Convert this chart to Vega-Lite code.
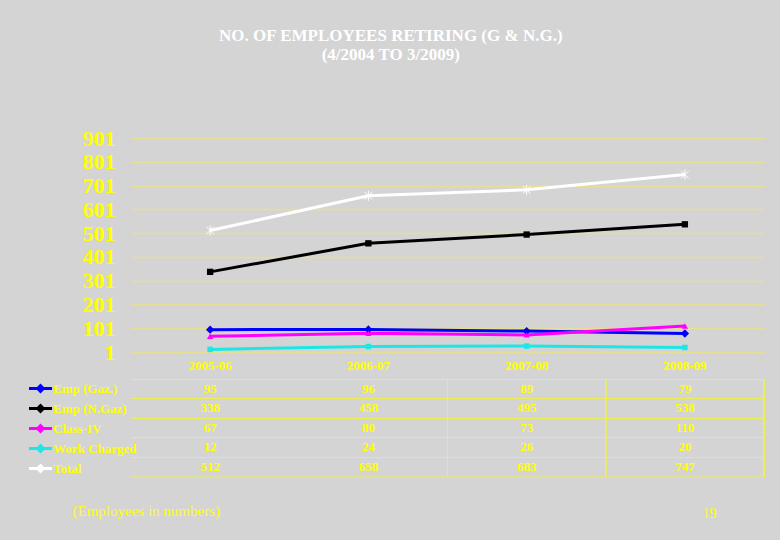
{
  "$schema": "https://vega.github.io/schema/vega-lite/v6.json",
  "background": "#d4d4d4",
  "padding": {"left": 29, "top": 27, "right": 15, "bottom": 23},
  "autosize": {"type": "pad"},
  "config": {
    "view": {"stroke": null},
    "font": "Liberation Serif",
    "concat": {"spacing": 0}
  },
  "title": {
    "text": ["NO. OF EMPLOYEES RETIRING (G & N.G.)", "(4/2004 TO 3/2009)"],
    "color": "#ffffff",
    "fontSize": 17,
    "fontWeight": "bold",
    "font": "Liberation Serif",
    "lineHeight": 19,
    "anchor": "middle",
    "dx": -6,
    "offset": 63
  },
  "data": {
    "values": [
      {"year": "2005-06", "series": "Emp (Gaz.)", "count": 95},
      {"year": "2006-07", "series": "Emp (Gaz.)", "count": 96},
      {"year": "2007-08", "series": "Emp (Gaz.)", "count": 89},
      {"year": "2008-09", "series": "Emp (Gaz.)", "count": 79},
      {"year": "2005-06", "series": "Emp (N.Gaz)", "count": 338},
      {"year": "2006-07", "series": "Emp (N.Gaz)", "count": 458},
      {"year": "2007-08", "series": "Emp (N.Gaz)", "count": 495},
      {"year": "2008-09", "series": "Emp (N.Gaz)", "count": 538},
      {"year": "2005-06", "series": "Class-IV", "count": 67},
      {"year": "2006-07", "series": "Class-IV", "count": 80},
      {"year": "2007-08", "series": "Class-IV", "count": 73},
      {"year": "2008-09", "series": "Class-IV", "count": 110},
      {"year": "2005-06", "series": "Work Charged", "count": 12},
      {"year": "2006-07", "series": "Work Charged", "count": 24},
      {"year": "2007-08", "series": "Work Charged", "count": 26},
      {"year": "2008-09", "series": "Work Charged", "count": 20},
      {"year": "2005-06", "series": "Total", "count": 512},
      {"year": "2006-07", "series": "Total", "count": 658},
      {"year": "2007-08", "series": "Total", "count": 683},
      {"year": "2008-09", "series": "Total", "count": 747}
    ]
  },
  "vconcat": [
    {
      "width": 633,
      "height": 214,
      "encoding": {
        "x": {
          "field": "year",
          "type": "nominal",
          "scale": {"type": "band", "domain": ["2005-06", "2006-07", "2007-08", "2008-09"], "paddingInner": 0, "paddingOuter": 0},
          "axis": {
            "title": null,
            "labelAngle": 0,
            "labelColor": "#ffff00",
            "labelFontSize": 13,
            "labelFontWeight": "bold",
            "labelFont": "Liberation Serif",
            "labelPadding": 7,
            "ticks": false,
            "domain": false,
            "grid": false,
            "minExtent": 26,
            "maxExtent": 26
          }
        },
        "y": {
          "field": "count",
          "type": "quantitative",
          "scale": {"domain": [1, 901], "nice": false, "zero": false},
          "axis": {
            "title": null,
            "values": [1, 101, 201, 301, 401, 501, 601, 701, 801, 901],
            "labelColor": "#ffff00",
            "labelFontSize": 22,
            "labelFontWeight": "bold",
            "labelFont": "Liberation Serif",
            "labelPadding": 16,
            "ticks": false,
            "domain": false,
            "grid": true,
            "gridColor": "#e6df94",
            "gridWidth": 1.5,
            "minExtent": 102,
            "maxExtent": 102
          }
        },
        "color": {
          "field": "series",
          "type": "nominal",
          "scale": {
            "domain": ["Emp (Gaz.)", "Emp (N.Gaz)", "Class-IV", "Work Charged", "Total"],
            "range": ["#0000ff", "#000000", "#ff00ff", "#1ee6e6", "#ffffff"]
          },
          "legend": {
            "title": null,
            "orient": "none",
            "legendX": -101,
            "legendY": 240,
            "padding": 0,
            "rowPadding": 0,
            "symbolType": "M-1.33,0H1.33M-0.33,0L0,-0.33L0.33,0L0,0.33Z",
            "symbolSize": 300,
            "symbolStrokeWidth": 3,
            "labelColor": "#ffff00",
            "labelFont": "Liberation Serif",
            "labelFontSize": 13,
            "labelFontWeight": "bold",
            "labelOffset": 2,
            "labelLimit": 200
          }
        }
      },
      "layer": [
        {"mark": {"type": "line", "strokeWidth": 3}},
        {
          "transform": [{"filter": "datum.series === 'Emp (Gaz.)'"}],
          "mark": {"type": "point", "filled": true, "opacity": 1, "size": 70, "shape": "diamond"}
        },
        {
          "transform": [{"filter": "datum.series === 'Emp (N.Gaz)'"}],
          "mark": {"type": "point", "filled": true, "opacity": 1, "size": 40, "shape": "square"}
        },
        {
          "transform": [{"filter": "datum.series === 'Class-IV'"}],
          "mark": {"type": "point", "filled": true, "opacity": 1, "size": 40, "shape": "triangle-up"}
        },
        {
          "transform": [{"filter": "datum.series === 'Work Charged'"}],
          "mark": {"type": "point", "filled": true, "opacity": 1, "size": 30, "shape": "square"}
        },
        {
          "transform": [{"filter": "datum.series === 'Total'"}],
          "mark": {"type": "point", "filled": false, "opacity": 1, "size": 60, "shape": "M-1,-1L1,1M-1,1L1,-1M0,-1.3L0,1.3", "strokeWidth": 1}
        }
      ]
    },
    {
      "width": 633,
      "height": 97.5,
      "encoding": {
        "x": {
          "field": "year",
          "type": "nominal",
          "scale": {"type": "band", "domain": ["2005-06", "2006-07", "2007-08", "2008-09"], "paddingInner": 0, "paddingOuter": 0},
          "axis": {
            "labels": false,
            "ticks": false,
            "domain": true,
            "domainColor": "#eeee55",
            "domainWidth": 1,
            "grid": false,
            "title": "(Employees in numbers)",
            "titleColor": "#ffff00",
            "titleFont": "Liberation Serif",
            "titleFontSize": 15,
            "titleFontWeight": "normal",
            "titleAnchor": "start",
            "titleAlign": "left",
            "titleBaseline": "middle",
            "titleX": -59,
            "titleY": 34
          }
        }
      },
      "title": {
        "text": "19",
        "orient": "bottom",
        "anchor": "end",
        "color": "#ffff00",
        "font": "Liberation Serif",
        "fontSize": 14,
        "fontWeight": "normal",
        "dx": -48,
        "offset": -12
      },
      "layer": [
        {
          "transform": [{"filter": "datum.year === '2007-08' || datum.year === '2008-09'"}],
          "mark": {"type": "rule", "color": "#eeee55", "strokeWidth": 1},
          "encoding": {
            "x": {"field": "year", "type": "nominal", "bandPosition": 0}
          }
        },
        {
          "transform": [{"filter": "datum.year === '2008-09'"}],
          "mark": {"type": "rule", "color": "#eeee55", "strokeWidth": 1},
          "encoding": {
            "x": {"field": "year", "type": "nominal", "bandPosition": 1}
          }
        },
        {
          "mark": {
            "type": "text",
            "color": "#ffff00",
            "font": "Liberation Serif",
            "fontSize": 13,
            "fontWeight": "bold"
          },
          "encoding": {
            "y": {
              "field": "series",
              "type": "nominal",
              "scale": {
                "type": "band",
                "domain": ["Emp (Gaz.)", "Emp (N.Gaz)", "Class-IV", "Work Charged", "Total"],
                "paddingInner": 0,
                "paddingOuter": 0
              },
              "axis": {
                "title": null,
                "labels": false,
                "ticks": false,
                "domain": false,
                "grid": true,
                "bandPosition": 0,
                "gridColor": "#eeee55",
                "gridWidth": 1,
                "minExtent": 102,
                "maxExtent": 102
              }
            },
            "text": {"field": "count", "type": "quantitative"}
          }
        }
      ]
    }
  ]
}
